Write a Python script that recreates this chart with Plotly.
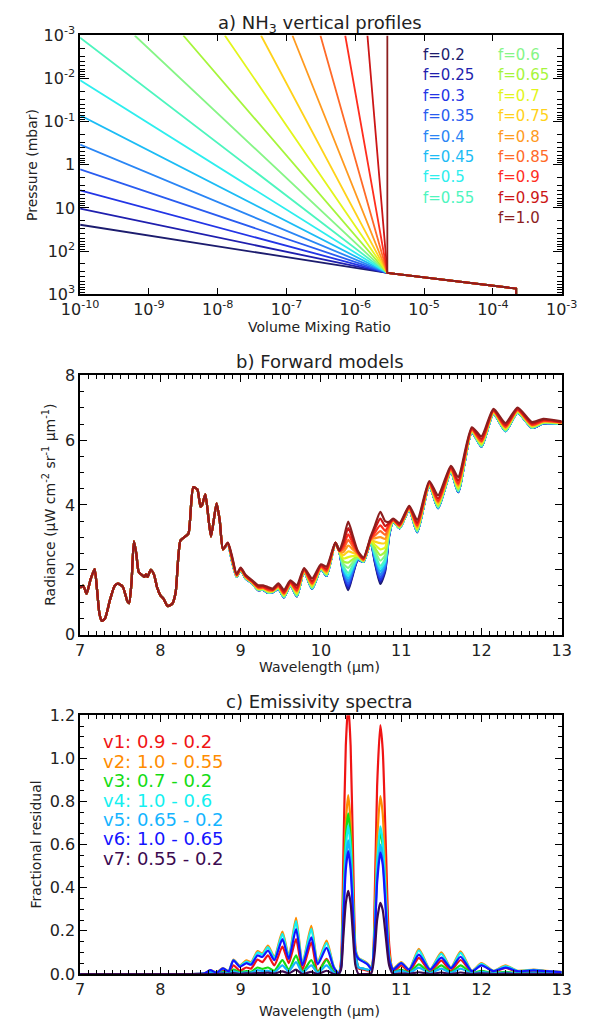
import plotly.graph_objects as go

W, H = 589, 1032
FONT = "DejaVu Sans"

# ---------------- a) NH3 vertical profiles ----------------
f_values = [0.2, 0.25, 0.3, 0.35, 0.4, 0.45, 0.5, 0.55, 0.6,
            0.65, 0.7, 0.75, 0.8, 0.85, 0.9, 0.95, 1.0]
f_labels = ["f=0.2", "f=0.25", "f=0.3", "f=0.35", "f=0.4", "f=0.45", "f=0.5",
            "f=0.55", "f=0.6", "f=0.65", "f=0.7", "f=0.75", "f=0.8", "f=0.85",
            "f=0.9", "f=0.95", "f=1.0"]
f_colors = ["#1c1c6e", "#1f1fae", "#2335e6", "#2a5cf0", "#2a86f5", "#1cbcf5",
            "#2eeeee", "#4ef5be", "#86f586", "#a6f53c", "#e3f51c", "#ffd21a",
            "#ff9a1e", "#ff6a28", "#ff2e1e", "#cc1616", "#8c1e1e"]

# upper end of each profile (where it leaves the plotted range)
upper_vmr = [1e-10, 1e-10, 1e-10, 1e-10, 1e-10, 1e-10, 1e-10, 1e-10,
             6.22e-10, 3.16e-9, 1.27e-8, 4.26e-8, 1.22e-7, 3.11e-7,
             7.13e-7, 1.50e-6, 2.92e-6]
upper_pressure = [24.6, 10.4, 3.92, 1.27, 0.339, 0.0714, 0.0110, 0.00112,
                  1e-3, 1e-3, 1e-3, 1e-3, 1e-3, 1e-3, 1e-3, 1e-3, 1e-3]
# shared deep part of every profile
knee_vmr, knee_pressure = 2.92e-6, 321.0
deep_vmr, deep_pressure = 2.18e-4, 742.0
base_pressure = 1000.0

vmr_ticks = [1e-10, 1e-9, 1e-8, 1e-7, 1e-6, 1e-5, 1e-4, 1e-3]
vmr_ticktext = ["10<sup>-10</sup>", "10<sup>-9</sup>", "10<sup>-8</sup>", "10<sup>-7</sup>",
                "10<sup>-6</sup>", "10<sup>-5</sup>", "10<sup>-4</sup>", "10<sup>-3</sup>"]
p_ticks = [1e-3, 1e-2, 1e-1, 1, 10, 100, 1000]
p_ticktext = ["10<sup>-3</sup>", "10<sup>-2</sup>", "10<sup>-1</sup>", "1", "10",
              "10<sup>2</sup>", "10<sup>3</sup>"]

# ---------------- b) Forward models ----------------
wl_common = [7.00, 7.04, 7.08, 7.13, 7.18, 7.21, 7.24, 7.27, 7.31, 7.37, 7.43, 7.47,
             7.53, 7.59, 7.61, 7.64, 7.67, 7.70, 7.73, 7.78, 7.80, 7.82, 7.84, 7.88,
             7.92, 7.96, 8.00, 8.04, 8.09, 8.15, 8.19, 8.25, 8.31, 8.35, 8.41, 8.46,
             8.50, 8.52, 8.56, 8.63, 8.70, 8.74, 8.78]
rad_common = [1.45, 1.50, 1.26, 1.70, 2.02, 1.40, 0.65, 0.42, 0.50, 1.05, 1.50, 1.57,
              1.48, 1.02, 0.97, 1.60, 2.88, 2.50, 1.93, 1.82, 1.78, 1.86, 1.78, 2.00,
              1.85, 1.45, 1.21, 1.10, 0.88, 0.96, 1.30, 2.90, 3.03, 3.12, 4.55, 4.48,
              3.95, 4.00, 4.33, 3.03, 4.05, 3.50, 2.63]

wl_band = [8.84, 8.89, 8.95, 9.00, 9.06, 9.14, 9.22, 9.28, 9.34, 9.40, 9.47, 9.54,
           9.62, 9.70, 9.79, 9.89, 10.00, 10.07, 10.18, 10.23, 10.28, 10.34, 10.40,
           10.46, 10.53, 10.62, 10.67, 10.74, 10.80, 10.85, 10.90, 10.98, 11.10,
           11.20, 11.35, 11.46, 11.62, 11.71, 11.88, 12.00, 12.15, 12.30, 12.45,
           12.63, 12.77, 13.00]

rad_f020 = [2.80, 2.29, 1.78, 1.99, 1.74, 1.59, 1.37, 1.38, 1.29, 1.31, 1.41, 1.15, 1.53, 1.18, 1.95, 1.41,
            2.03, 1.81, 2.82, 2.55, 1.82, 1.37, 1.86, 2.30, 2.24, 2.85, 2.25, 1.56, 1.94, 3.04, 3.49, 3.28,
            3.85, 3.16, 4.60, 3.90, 5.03, 4.40, 6.25, 5.80, 6.82, 6.28, 6.85, 6.38, 6.52, 6.51]
rad_f025 = [2.80, 2.29, 1.78, 1.99, 1.74, 1.59, 1.37, 1.38, 1.29, 1.31, 1.41, 1.15, 1.53, 1.18, 1.95, 1.41,
            2.03, 1.81, 2.82, 2.55, 1.85, 1.43, 1.90, 2.31, 2.24, 2.85, 2.28, 1.63, 1.99, 3.05, 3.49, 3.28,
            3.85, 3.16, 4.60, 3.90, 5.03, 4.40, 6.25, 5.80, 6.82, 6.28, 6.85, 6.38, 6.52, 6.51]
rad_f030 = [2.80, 2.29, 1.78, 1.99, 1.74, 1.59, 1.37, 1.38, 1.29, 1.31, 1.41, 1.15, 1.53, 1.18, 1.95, 1.41,
            2.03, 1.81, 2.82, 2.55, 1.89, 1.50, 1.93, 2.32, 2.24, 2.85, 2.32, 1.69, 2.03, 3.07, 3.49, 3.28,
            3.85, 3.16, 4.60, 3.90, 5.03, 4.40, 6.25, 5.80, 6.82, 6.28, 6.85, 6.38, 6.52, 6.51]
rad_f035 = [2.80, 2.29, 1.78, 1.99, 1.74, 1.59, 1.37, 1.38, 1.29, 1.31, 1.41, 1.15, 1.53, 1.19, 1.95, 1.42,
            2.03, 1.82, 2.82, 2.55, 1.93, 1.57, 1.97, 2.33, 2.24, 2.85, 2.35, 1.77, 2.09, 3.08, 3.49, 3.28,
            3.85, 3.17, 4.60, 3.91, 5.03, 4.41, 6.25, 5.81, 6.82, 6.29, 6.85, 6.38, 6.52, 6.51]
rad_f040 = [2.80, 2.29, 1.78, 1.99, 1.74, 1.59, 1.37, 1.38, 1.30, 1.31, 1.42, 1.16, 1.53, 1.19, 1.95, 1.42,
            2.03, 1.82, 2.82, 2.55, 1.96, 1.65, 2.01, 2.34, 2.24, 2.86, 2.39, 1.85, 2.14, 3.10, 3.49, 3.28,
            3.85, 3.17, 4.60, 3.91, 5.04, 4.41, 6.25, 5.81, 6.82, 6.29, 6.85, 6.39, 6.52, 6.51]
rad_f045 = [2.80, 2.30, 1.78, 1.99, 1.74, 1.59, 1.38, 1.39, 1.30, 1.31, 1.42, 1.16, 1.54, 1.19, 1.95, 1.42,
            2.04, 1.82, 2.82, 2.55, 2.01, 1.73, 2.06, 2.35, 2.25, 2.86, 2.44, 1.94, 2.21, 3.11, 3.49, 3.29,
            3.85, 3.18, 4.61, 3.92, 5.04, 4.42, 6.26, 5.81, 6.83, 6.29, 6.86, 6.39, 6.53, 6.51]
rad_f050 = [2.80, 2.30, 1.79, 1.99, 1.75, 1.60, 1.38, 1.39, 1.30, 1.32, 1.42, 1.16, 1.54, 1.20, 1.96, 1.43,
            2.04, 1.83, 2.82, 2.55, 2.05, 1.82, 2.11, 2.36, 2.25, 2.86, 2.48, 2.03, 2.27, 3.13, 3.50, 3.29,
            3.86, 3.18, 4.61, 3.92, 5.04, 4.43, 6.26, 5.82, 6.83, 6.29, 6.86, 6.39, 6.53, 6.51]
rad_f055 = [2.80, 2.30, 1.79, 2.00, 1.75, 1.60, 1.38, 1.39, 1.30, 1.32, 1.42, 1.17, 1.54, 1.20, 1.96, 1.43,
            2.04, 1.83, 2.82, 2.55, 2.10, 1.90, 2.15, 2.37, 2.25, 2.86, 2.53, 2.12, 2.33, 3.15, 3.50, 3.29,
            3.86, 3.19, 4.61, 3.93, 5.04, 4.43, 6.26, 5.82, 6.83, 6.30, 6.86, 6.39, 6.53, 6.51]
rad_f060 = [2.81, 2.31, 1.79, 2.00, 1.75, 1.60, 1.39, 1.40, 1.31, 1.32, 1.43, 1.18, 1.55, 1.22, 1.96, 1.45,
            2.05, 1.85, 2.82, 2.56, 2.18, 2.06, 2.24, 2.39, 2.26, 2.87, 2.61, 2.28, 2.45, 3.18, 3.50, 3.30,
            3.87, 3.21, 4.62, 3.95, 5.05, 4.46, 6.27, 5.84, 6.84, 6.31, 6.87, 6.40, 6.54, 6.52]
rad_f065 = [2.81, 2.32, 1.80, 2.01, 1.76, 1.61, 1.40, 1.41, 1.33, 1.33, 1.45, 1.20, 1.56, 1.25, 1.97, 1.48,
            2.06, 1.87, 2.82, 2.56, 2.26, 2.22, 2.33, 2.41, 2.27, 2.89, 2.69, 2.45, 2.56, 3.22, 3.51, 3.31,
            3.88, 3.24, 4.63, 3.98, 5.07, 4.50, 6.28, 5.87, 6.85, 6.33, 6.88, 6.42, 6.55, 6.52]
rad_f070 = [2.81, 2.34, 1.81, 2.01, 1.77, 1.62, 1.41, 1.42, 1.34, 1.34, 1.46, 1.22, 1.57, 1.28, 1.98, 1.50,
            2.07, 1.89, 2.83, 2.56, 2.35, 2.39, 2.42, 2.43, 2.28, 2.90, 2.78, 2.63, 2.69, 3.25, 3.52, 3.33,
            3.88, 3.27, 4.64, 4.02, 5.08, 4.53, 6.29, 5.89, 6.86, 6.35, 6.90, 6.43, 6.56, 6.53]
rad_f075 = [2.81, 2.35, 1.81, 2.02, 1.78, 1.62, 1.42, 1.43, 1.35, 1.35, 1.47, 1.23, 1.58, 1.30, 1.99, 1.53,
            2.08, 1.91, 2.83, 2.57, 2.45, 2.57, 2.52, 2.46, 2.29, 2.91, 2.87, 2.82, 2.82, 3.29, 3.52, 3.34,
            3.89, 3.30, 4.65, 4.04, 5.09, 4.57, 6.30, 5.92, 6.87, 6.37, 6.91, 6.44, 6.57, 6.54]
rad_f080 = [2.82, 2.36, 1.82, 2.02, 1.79, 1.63, 1.43, 1.44, 1.37, 1.36, 1.48, 1.25, 1.59, 1.33, 1.99, 1.55,
            2.09, 1.93, 2.83, 2.57, 2.54, 2.75, 2.62, 2.48, 2.30, 2.93, 2.97, 3.01, 2.95, 3.33, 3.53, 3.35,
            3.90, 3.32, 4.66, 4.07, 5.11, 4.60, 6.31, 5.94, 6.88, 6.39, 6.92, 6.46, 6.58, 6.54]
rad_f085 = [2.82, 2.37, 1.83, 2.03, 1.80, 1.64, 1.45, 1.45, 1.38, 1.37, 1.50, 1.27, 1.60, 1.35, 2.00, 1.57,
            2.10, 1.96, 2.83, 2.58, 2.63, 2.92, 2.71, 2.50, 2.31, 2.94, 3.05, 3.19, 3.08, 3.36, 3.54, 3.36,
            3.91, 3.35, 4.67, 4.10, 5.12, 4.63, 6.33, 5.96, 6.90, 6.41, 6.93, 6.47, 6.59, 6.55]
rad_f090 = [2.82, 2.38, 1.83, 2.04, 1.80, 1.64, 1.46, 1.46, 1.39, 1.37, 1.51, 1.28, 1.61, 1.37, 2.01, 1.59,
            2.11, 1.98, 2.83, 2.58, 2.72, 3.09, 2.81, 2.53, 2.32, 2.95, 3.14, 3.37, 3.20, 3.40, 3.54, 3.37,
            3.92, 3.38, 4.68, 4.13, 5.13, 4.66, 6.34, 5.98, 6.91, 6.42, 6.94, 6.48, 6.60, 6.55]
rad_f095 = [2.83, 2.41, 1.85, 2.05, 1.82, 1.66, 1.48, 1.49, 1.43, 1.39, 1.54, 1.32, 1.64, 1.44, 2.03, 1.65,
            2.14, 2.03, 2.84, 2.59, 2.82, 3.29, 2.92, 2.55, 2.35, 2.99, 3.25, 3.58, 3.35, 3.44, 3.56, 3.40,
            3.94, 3.45, 4.71, 4.20, 5.17, 4.75, 6.36, 6.04, 6.93, 6.47, 6.97, 6.52, 6.63, 6.56]
rad_f100 = [2.84, 2.45, 1.87, 2.07, 1.85, 1.68, 1.52, 1.52, 1.47, 1.42, 1.58, 1.38, 1.67, 1.52, 2.05, 1.73,
            2.17, 2.10, 2.84, 2.60, 2.93, 3.49, 3.03, 2.58, 2.38, 3.03, 3.35, 3.79, 3.50, 3.48, 3.58, 3.44,
            3.97, 3.54, 4.74, 4.30, 5.21, 4.86, 6.40, 6.12, 6.97, 6.53, 7.01, 6.56, 6.66, 6.58]

band_radiance = [rad_f020, rad_f025, rad_f030, rad_f035, rad_f040, rad_f045, rad_f050,
                 rad_f055, rad_f060, rad_f065, rad_f070, rad_f075, rad_f080, rad_f085,
                 rad_f090, rad_f095, rad_f100]

# ---------------- c) Emissivity spectra ----------------
wl_resid = [7.0, 8.0, 8.55, 8.62, 8.7, 8.78, 8.85, 8.91, 8.99, 9.07, 9.13, 9.21, 9.27, 9.34,
            9.42, 9.52, 9.60, 9.69, 9.77, 9.88, 9.96, 10.07, 10.16, 10.22, 10.25, 10.28,
            10.31, 10.34, 10.37, 10.40, 10.43, 10.47, 10.53, 10.58, 10.63, 10.67, 10.70,
            10.74, 10.77, 10.81, 10.85, 10.9, 11.0, 11.1, 11.22, 11.36, 11.5, 11.62, 11.74,
            11.88, 12.0, 12.15, 12.3, 12.45, 12.65, 12.8, 13.0]
v1 = [0, 0, 0.002, 0.01, 0.004, 0.015, 0.006, 0.04, 0.015, 0.03, 0.025, 0.067, 0.055, 0.086,
      0.04, 0.127, 0.05, 0.162, 0.02, 0.147, 0.01, 0.07, 0.01, 0, 0.06, 0.56, 1.06, 1.25, 1.06,
      0.56, 0.12, 0.025, 0.02, 0.015, 0.02, 0.35, 0.87, 1.155, 1.04, 0.58, 0.14, 0.01, 0.04,
      0.01, 0.075, 0.01, 0.062, 0.015, 0.065, 0.01, 0.045, 0.01, 0.028, 0.01, 0.017, 0.013, 0.008]
v2 = [0, 0, 0.003, 0.018, 0.008, 0.027, 0.014, 0.067, 0.04, 0.063, 0.055, 0.106, 0.095, 0.132,
      0.08, 0.197, 0.085, 0.26, 0.05, 0.223, 0.055, 0.155, 0.035, 0.002, 0.04, 0.37, 0.705, 0.83,
      0.705, 0.39, 0.12, 0.075, 0.062, 0.05, 0.03, 0.25, 0.62, 0.826, 0.743, 0.413, 0.1, 0.025,
      0.055, 0.022, 0.117, 0.022, 0.1, 0.03, 0.105, 0.015, 0.05, 0.015, 0.04, 0.015, 0.02, 0.015, 0.01]
v3 = [0, 0, 0.001, 0.006, 0.002, 0.01, 0.004, 0.02, 0.008, 0.014, 0.01, 0.03, 0.024, 0.03,
      0.015, 0.064, 0.02, 0.086, 0.01, 0.064, 0.008, 0.065, 0.01, 0, 0.037, 0.335, 0.633, 0.745,
      0.633, 0.34, 0.1, 0.03, 0.025, 0.02, 0.02, 0.2, 0.495, 0.66, 0.594, 0.33, 0.08, 0.01, 0.02,
      0.006, 0.045, 0.006, 0.04, 0.008, 0.04, 0.004, 0.015, 0.004, 0.01, 0.004, 0.006, 0.004, 0.003]
v4 = [0, 0, 0.003, 0.016, 0.007, 0.025, 0.013, 0.064, 0.037, 0.058, 0.05, 0.1, 0.09, 0.125,
      0.075, 0.186, 0.08, 0.245, 0.047, 0.21, 0.05, 0.145, 0.033, 0.002, 0.035, 0.31, 0.587, 0.69,
      0.587, 0.33, 0.11, 0.072, 0.06, 0.047, 0.025, 0.205, 0.514, 0.685, 0.617, 0.343, 0.082,
      0.022, 0.052, 0.02, 0.11, 0.02, 0.094, 0.028, 0.098, 0.014, 0.047, 0.014, 0.037, 0.014,
      0.019, 0.014, 0.009]
v5 = [0, 0, 0.001, 0.004, 0.001, 0.006, 0.002, 0.012, 0.005, 0.008, 0.006, 0.018, 0.014, 0.015,
      0.008, 0.04, 0.012, 0.055, 0.006, 0.04, 0.005, 0.04, 0.005, 0, 0.03, 0.28, 0.527, 0.62,
      0.527, 0.29, 0.09, 0.03, 0.025, 0.02, 0.02, 0.18, 0.45, 0.6, 0.54, 0.3, 0.072, 0.01, 0.015,
      0.004, 0.03, 0.004, 0.025, 0.005, 0.025, 0.003, 0.01, 0.003, 0.006, 0.003, 0.004, 0.003, 0.002]
v6 = [0, 0, 0.003, 0.018, 0.006, 0.026, 0.012, 0.063, 0.033, 0.05, 0.043, 0.086, 0.079, 0.109,
      0.064, 0.162, 0.07, 0.208, 0.04, 0.17, 0.045, 0.121, 0.03, 0.002, 0.028, 0.256, 0.485, 0.57,
      0.485, 0.28, 0.1, 0.07, 0.056, 0.045, 0.022, 0.17, 0.423, 0.564, 0.508, 0.282, 0.068, 0.02,
      0.05, 0.02, 0.09, 0.02, 0.076, 0.027, 0.08, 0.013, 0.04, 0.013, 0.03, 0.013, 0.017, 0.013, 0.009]
v7 = [0, 0, 0, 0, 0, 0.002, 0, 0.004, 0, 0.003, 0.002, 0.005, 0.004, 0.006, 0.002, 0.012,
      0.003, 0.02, 0, 0.01, 0, 0.015, 0, 0, 0.02, 0.174, 0.328, 0.386, 0.328, 0.174, 0.04, 0, 0,
      0, 0.005, 0.1, 0.25, 0.33, 0.297, 0.165, 0.04, 0, 0.003, 0, 0.008, 0, 0.007, 0, 0.007, 0,
      0.003, 0, 0.002, 0, 0.001, 0, 0]
resid_series = [v1, v2, v3, v4, v5, v6, v7]
resid_labels = ["v1: 0.9 - 0.2", "v2: 1.0 - 0.55", "v3: 0.7 - 0.2", "v4: 1.0 - 0.6",
                "v5: 0.65 - 0.2", "v6: 1.0 - 0.65", "v7: 0.55 - 0.2"]
resid_colors = ["#f01414", "#ff8c00", "#14dc14", "#14f0f0", "#14b4ff", "#1414ff", "#3c0a50"]

for arr in band_radiance:
    assert len(arr) == len(wl_band)
for arr in resid_series:
    assert len(arr) == len(wl_resid)
assert len(rad_common) == len(wl_common)


def px(x):
    return x / W


def py(y):
    return 1 - y / H


fig = go.Figure()

# panel a: profiles
for i in range(len(f_values)):
    fig.add_trace(go.Scatter(
        x=[upper_vmr[i], knee_vmr, deep_vmr, deep_vmr],
        y=[upper_pressure[i], knee_pressure, deep_pressure, base_pressure],
        mode="lines", line=dict(color=f_colors[i], width=1.8),
        xaxis="x", yaxis="y", showlegend=False, hoverinfo="skip"))

# panel b: forward-model spectra
for i in range(len(f_values)):
    fig.add_trace(go.Scatter(
        x=wl_common + wl_band, y=rad_common + band_radiance[i],
        mode="lines", line=dict(color=f_colors[i], width=2.2, shape="spline", smoothing=0.6),
        xaxis="x2", yaxis="y2", showlegend=False, hoverinfo="skip"))

# panel c: fractional residuals
for i, series in enumerate(resid_series):
    fig.add_trace(go.Scatter(
        x=wl_resid, y=series,
        mode="lines", line=dict(color=resid_colors[i], width=2.2, shape="spline", smoothing=0.6),
        xaxis="x3", yaxis="y3", showlegend=False, hoverinfo="skip"))

XDOM = [px(65), px(577)]
tickfont = dict(family=FONT, size=16, color="#222222")
base = dict(showline=True, linecolor="black", linewidth=1.6, mirror="ticks",
            ticks="inside", tickcolor="black", tickwidth=1.2, showgrid=False,
            zeroline=False, tickfont=tickfont)

p_minor = [k * 10.0 ** e for e in range(-3, 3) for k in range(2, 10)]

fig.update_layout(
    width=W, height=H, autosize=False,
    margin=dict(l=0, r=0, t=0, b=0),
    paper_bgcolor="white", plot_bgcolor="white",
    xaxis=dict(base, type="log", range=[-10, -3], tickvals=vmr_ticks, ticktext=vmr_ticktext,
               ticklen=6, domain=XDOM, anchor="y"),
    yaxis=dict(base, type="log", range=[3, -3], tickvals=p_ticks, ticktext=p_ticktext,
               ticklen=9, domain=[py(289), py(25)], anchor="x",
               minor=dict(tickvals=p_minor, ticks="inside", ticklen=5, tickcolor="black",
                          tickwidth=1, showgrid=False)),
    xaxis2=dict(base, range=[7, 13], tick0=7, dtick=1, ticklen=7, domain=XDOM, anchor="y2",
                minor=dict(dtick=0.1, ticks="inside", ticklen=4, tickcolor="black",
                           tickwidth=1, showgrid=False)),
    yaxis2=dict(base, range=[0, 8], tick0=0, dtick=2, ticklen=7,
                domain=[py(636.5), py(372)], anchor="x2",
                minor=dict(dtick=0.5, ticks="inside", ticklen=4, tickcolor="black",
                           tickwidth=1, showgrid=False)),
    xaxis3=dict(base, range=[7, 13], tick0=7, dtick=1, ticklen=7, domain=XDOM, anchor="y3",
                minor=dict(dtick=0.1, ticks="inside", ticklen=4, tickcolor="black",
                           tickwidth=1, showgrid=False)),
    yaxis3=dict(base, range=[0, 1.2], tick0=0, dtick=0.2, tickformat=".1f", ticklen=7,
                domain=[py(983), py(719)], anchor="x3",
                minor=dict(dtick=0.05, ticks="inside", ticklen=4, tickcolor="black",
                           tickwidth=1, showgrid=False)),
)

ann = []


def text(x, y, s, size, color="#222222", angle=0, xanchor="center"):
    ann.append(dict(x=px(x), y=py(y), xref="paper", yref="paper", text=s,
                    showarrow=False, textangle=angle, xanchor=xanchor, yanchor="middle",
                    borderpad=0, font=dict(family=FONT, size=size, color=color)))


# panel titles
text(320, 13, "a) NH<sub>3</sub> vertical profiles", 18)
text(320, 358, "b) Forward models", 18)
text(320, 705, "c) Emissivity spectra", 18)

# axis titles
text(320, 323, "Volume Mixing Ratio", 14)
text(14, 157, "Pressure (mbar)", 14, angle=-90)
text(320, 670, "Wavelength (µm)", 14)
text(32, 504, "Radiance (µW cm<sup>-2</sup> sr<sup>-1</sup> µm<sup>-1</sup>)", 14, angle=-90)
text(320, 1021, "Wavelength (µm)", 14)
text(18, 851, "Fractional residual", 14, angle=-90)

# f legend of panel a, two columns
for i, lab in enumerate(f_labels):
    col, row = (0, i) if i < 8 else (1, i - 8)
    text(428 if col == 0 else 508, 45 + row * 20.8, lab, 15, color=f_colors[i], xanchor="left")

# residual legend of panel c
for i, lab in enumerate(resid_labels):
    text(88, 746 + i * 19.8, lab, 18, color=resid_colors[i], xanchor="left")

fig.update_layout(annotations=ann)
fig.write_html("out.html")
